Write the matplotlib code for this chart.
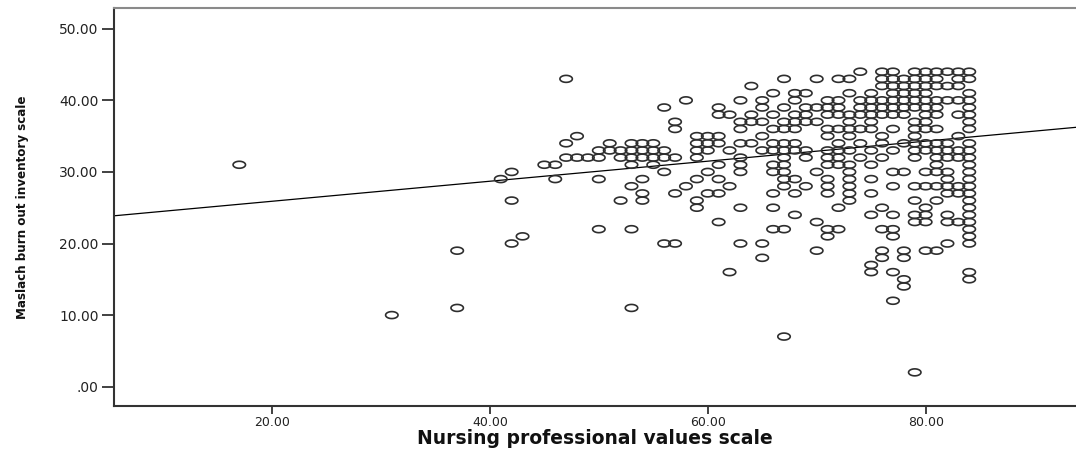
import matplotlib
matplotlib.use("Agg")
import matplotlib.pyplot as plt
import numpy as np
from matplotlib import font_manager as fm
from matplotlib.path import Path
from matplotlib.ticker import FuncFormatter

# burnout score levels (y) and the nursing values scores (x) seen at each level
burnout_levels = [44, 43, 42, 41, 40, 39, 38, 37, 36, 35, 34, 33, 32, 31, 30,
                  29, 28, 27, 26, 25, 24, 23, 22, 21, 20, 19, 18, 17, 16, 15,
                  14, 12, 11, 10, 7, 2]
nursing_at_level = [
    [74, 76, 77, 79, 80, 81, 82, 83, 84],
    [47, 67, 70, 72, 73, 76, 77, 78, 79, 80, 81, 83, 84],
    [64, 76, 77, 78, 79, 80, 81, 82, 83],
    [66, 68, 69, 73, 75, 77, 78, 79, 80, 84],
    [58, 63, 65, 68, 71, 72, 74, 75, 76, 77, 78, 79, 80, 81, 82, 83, 84],
    [56, 61, 65, 67, 69, 70, 71, 72, 74, 75, 76, 77, 78, 79, 80, 81, 84],
    [61, 62, 64, 66, 68, 69, 71, 72, 73, 74, 75, 76, 77, 78, 80, 81, 83, 84],
    [57, 63, 64, 65, 67, 68, 69, 70, 73, 75, 79, 80, 84],
    [57, 63, 66, 67, 68, 71, 72, 73, 74, 75, 77, 79, 80, 81, 84],
    [48, 59, 60, 61, 65, 71, 73, 76, 79, 83],
    [47, 51, 53, 54, 55, 59, 60, 61, 63, 64, 66, 67, 68, 72, 74, 76, 78, 79,
     80, 81, 82, 84],
    [50, 51, 52, 53, 54, 55, 56, 59, 60, 62, 65, 66, 67, 68, 69, 71, 72, 73,
     75, 77, 79, 80, 81, 82, 83, 84],
    [47, 48, 49, 50, 52, 53, 54, 55, 56, 57, 59, 63, 67, 69, 71, 72, 74, 76,
     79, 81, 82, 83, 84],
    [17, 45, 46, 53, 55, 61, 63, 66, 67, 71, 72, 73, 75, 81, 84],
    [42, 56, 60, 63, 66, 67, 70, 73, 77, 78, 80, 81, 82, 84],
    [41, 46, 50, 54, 59, 61, 67, 68, 71, 73, 75, 82, 84],
    [53, 58, 62, 67, 69, 71, 73, 77, 79, 80, 81, 82, 83, 84],
    [54, 57, 60, 61, 66, 68, 71, 73, 75, 82, 83, 84],
    [42, 52, 54, 59, 73, 79, 81, 84],
    [59, 63, 66, 72, 76, 80, 84],
    [68, 75, 77, 79, 80, 82, 84],
    [61, 70, 79, 80, 82, 83, 84],
    [50, 53, 66, 67, 71, 72, 76, 77, 84],
    [43, 71, 77, 84],
    [42, 56, 57, 63, 65, 82, 84],
    [37, 70, 76, 78, 80, 81],
    [65, 76, 78],
    [75],
    [62, 75, 77, 84],
    [78, 84],
    [78],
    [77],
    [37, 53],
    [31],
    [67],
    [79],
]

# linear fit line as drawn in the chart
fit_intercept = 23.1
fit_slope = 0.14

xticks = [20, 40, 60, 80]
yticks = [0, 10, 20, 30, 40, 50]

x_vals, y_vals = [], []
for lvl, xs in zip(burnout_levels, nursing_at_level):
    for xv in xs:
        x_vals.append(xv)
        y_vals.append(lvl)

# look for a narrow bold face for the y label (reference uses Arial Narrow)
narrow = None
for f in fm.fontManager.ttflist:
    st = f.stretch if isinstance(f.stretch, int) else fm.stretch_dict.get(f.stretch, 500)
    if ("Narrow" in f.name or "Condensed" in f.name or st < 500) \
            and f.weight in ("bold", 700, "heavy", 800):
        narrow = f.fname
        break
if narrow is None:
    for f in fm.fontManager.ttflist:
        st = f.stretch if isinstance(f.stretch, int) else fm.stretch_dict.get(f.stretch, 500)
        if "Narrow" in f.name or "Condensed" in f.name or st < 500:
            narrow = f.fname
            break

# flattened open circle (the original picture is stretched sideways)
t = np.linspace(0, 2 * np.pi, 60)
ellipse = Path(np.column_stack([np.cos(t), 0.56 * np.sin(t)]), closed=True)

fig = plt.figure(figsize=(10.76, 4.5), dpi=100)
ax = fig.add_axes([114 / 1076, 44 / 450, 1 - 114 / 1076, 398 / 450])

ax.scatter(x_vals, y_vals, marker=ellipse, s=80, facecolors="none",
           edgecolors="#2e2e2e", linewidths=1.2, zorder=3)
ax.axline((0, fit_intercept), slope=fit_slope, color="black", lw=0.9, zorder=2)

ax.set_xlim(5.5, 93.8)
ax.set_ylim(-2.7, 52.9)
ax.set_xticks(xticks)
ax.set_yticks(yticks)


def fmt(v, pos):
    s = "%.2f" % v
    return s[1:] if s.startswith("0.") else s


ax.xaxis.set_major_formatter(FuncFormatter(fmt))
ax.yaxis.set_major_formatter(FuncFormatter(fmt))
ax.tick_params(axis="y", length=9, width=1.3, color="#333333", pad=2,
               labelsize=10, labelcolor="#222222")
ax.tick_params(axis="x", length=6, width=1.3, color="#333333", pad=1.5,
               labelsize=9, labelcolor="#222222")

ax.spines["right"].set_visible(False)
for s in ["left", "bottom"]:
    ax.spines[s].set_linewidth(1.5)
    ax.spines[s].set_color("#333333")
ax.spines["top"].set_linewidth(1.5)
ax.spines["top"].set_color("#8a8a8a")

ax.set_xlabel("Nursing professional values scale", fontsize=13.5,
              fontweight="bold", color="#111111")
ax.xaxis.set_label_coords(0.5, -0.059)

if narrow is not None:
    ylab = ax.set_ylabel("Maslach burn out inventory scale", color="#111111",
                         font=fm.FontProperties(fname=narrow, weight="bold"))
    ylab.set_fontsize(13)
else:
    ylab = ax.set_ylabel("Maslach burn out inventory scale", fontsize=12,
                         fontweight="bold", color="#111111")
ax.yaxis.set_label_coords(-0.088, 0.5)

# fit the label to the length seen in the reference (~215 px)
fig.canvas.draw()
h = ylab.get_window_extent().height
size = ylab.get_fontsize()
ylab.set_fontsize(max(size * 215 / h, 9.5))

fig.savefig("out.png", dpi=100)
